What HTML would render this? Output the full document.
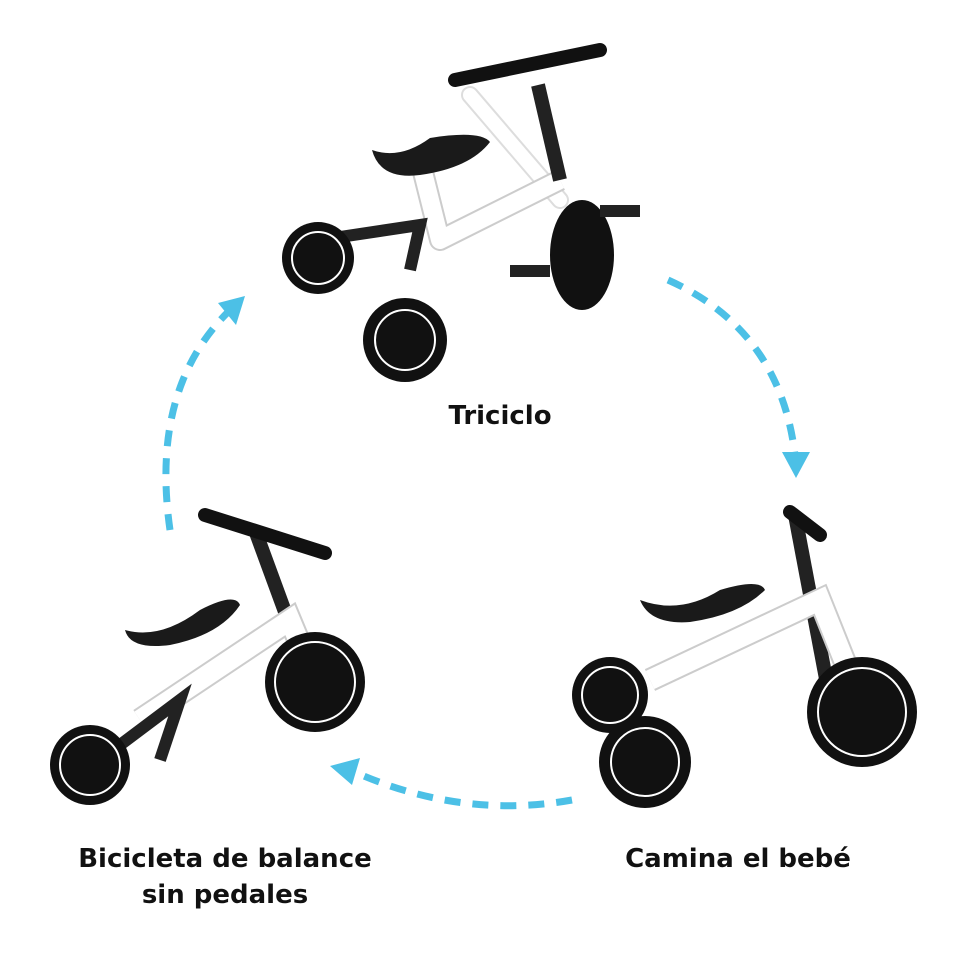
<!DOCTYPE html>
<html><head><meta charset="utf-8"><style>
html,body{margin:0;padding:0;background:#fff;}
svg{display:block}
text{font-family:"DejaVu Sans","Liberation Sans",sans-serif;font-weight:bold;fill:#111}
</style></head><body>
<svg width="960" height="954" viewBox="0 0 960 954" xmlns="http://www.w3.org/2000/svg">
<defs>
<g id="wheel">
<circle r="1" fill="#111"/>
</g>
</defs>
<!-- arrows -->
<g fill="none" stroke="#4cc0e6" stroke-width="7" stroke-dasharray="16 12">
<path d="M170 530 Q150 390 228 312"/>
<path d="M668 280 Q780 330 795 455"/>
<path d="M572 800 Q460 820 350 770"/>
</g>
<g fill="#4cc0e6">
<polygon points="245,296 218,303 236,325"/>
<polygon points="796,478 782,452 810,452"/>
<polygon points="330,766 360,758 352,785"/>
</g>

<!-- Top tricycle -->
<g>
<path d="M470 95 L560 200" stroke="#ddd" stroke-width="18" stroke-linecap="round"/>
<path d="M470 95 L560 200" stroke="#fff" stroke-width="14" stroke-linecap="round"/>
<path d="M420 160 L440 240 L560 180" stroke="#ccc" stroke-width="22" fill="none" stroke-linejoin="round"/>
<path d="M420 160 L440 240 L560 180" stroke="#fff" stroke-width="18" fill="none" stroke-linejoin="round"/>
<path d="M538 85 L560 180" stroke="#222" stroke-width="14"/>
<path d="M455 80 L600 50" stroke="#111" stroke-width="14" stroke-linecap="round"/>
<path d="M372 150 Q400 160 430 138 Q480 130 490 142 Q470 168 420 175 Q380 180 372 150Z" fill="#1a1a1a"/>
<path d="M320 240 L420 225 L410 270" stroke="#222" stroke-width="12" fill="none"/>
<circle cx="318" cy="258" r="36" fill="#111"/><circle cx="318" cy="258" r="26" fill="none" stroke="#fff" stroke-width="2"/>
<circle cx="405" cy="340" r="42" fill="#111"/><circle cx="405" cy="340" r="30" fill="none" stroke="#fff" stroke-width="2"/>
<ellipse cx="582" cy="255" rx="32" ry="55" fill="#111"/>
<rect x="600" y="205" width="40" height="12" fill="#222"/>
<rect x="510" y="265" width="40" height="12" fill="#222"/>
</g>

<!-- Right bike -->
<g>
<path d="M795 515 L830 700" stroke="#222" stroke-width="14"/>
<path d="M790 512 L820 535" stroke="#111" stroke-width="14" stroke-linecap="round"/>
<path d="M650 680 L820 600 L860 700" stroke="#ccc" stroke-width="24" fill="none"/>
<path d="M650 680 L820 600 L860 700" stroke="#fff" stroke-width="20" fill="none"/>
<path d="M640 600 Q680 615 720 590 Q760 578 765 590 Q740 615 690 622 Q650 625 640 600Z" fill="#1a1a1a"/>
<circle cx="610" cy="695" r="38" fill="#111"/><circle cx="610" cy="695" r="28" fill="none" stroke="#fff" stroke-width="2"/>
<circle cx="645" cy="762" r="46" fill="#111"/><circle cx="645" cy="762" r="34" fill="none" stroke="#fff" stroke-width="2"/>
<circle cx="862" cy="712" r="55" fill="#111"/><circle cx="862" cy="712" r="44" fill="none" stroke="#fff" stroke-width="2"/>
</g>

<!-- Left bike -->
<g>
<path d="M255 530 L310 680" stroke="#222" stroke-width="14"/>
<path d="M205 515 L325 553" stroke="#111" stroke-width="14" stroke-linecap="round"/>
<path d="M140 720 L290 620 L315 680" stroke="#ccc" stroke-width="24" fill="none"/>
<path d="M140 720 L290 620 L315 680" stroke="#fff" stroke-width="20" fill="none"/>
<path d="M125 630 Q160 640 200 610 Q235 592 240 605 Q220 635 170 645 Q130 650 125 630Z" fill="#1a1a1a"/>
<path d="M100 760 L180 700 L160 760" stroke="#222" stroke-width="12" fill="none"/>
<circle cx="90" cy="765" r="40" fill="#111"/><circle cx="90" cy="765" r="30" fill="none" stroke="#fff" stroke-width="2"/>
<circle cx="315" cy="682" r="50" fill="#111"/><circle cx="315" cy="682" r="40" fill="none" stroke="#fff" stroke-width="2"/>
</g>

<text x="500" y="424" font-size="26" text-anchor="middle">Triciclo</text>
<text x="738" y="867" font-size="26" text-anchor="middle">Camina el bebé</text>
<text x="225" y="867" font-size="26" text-anchor="middle">Bicicleta de balance</text>
<text x="225" y="903" font-size="26" text-anchor="middle">sin pedales</text>
</svg>
</body></html>
